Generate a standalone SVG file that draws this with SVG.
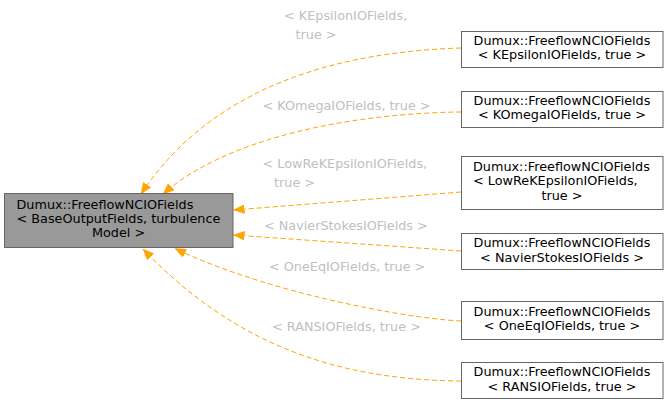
<svg xmlns="http://www.w3.org/2000/svg" width="669" height="409" viewBox="0 0 669 409">
<style>
text { font-family: "DejaVu Sans", "Liberation Sans", sans-serif; font-size: 12.8px; }
.nt { fill: #000000; }
.lbl { fill: #c0c0c0; }
.box { fill: #ffffff; stroke: #666666; stroke-width: 1; }
.main { fill: #999999; stroke: #666666; stroke-width: 1; }
.edge { fill: none; stroke: #ffa500; stroke-width: 1; stroke-dasharray: 5,3; marker-end: url(#arr); }
</style>
<defs>
<marker id="arr" markerUnits="userSpaceOnUse" viewBox="0 0 11 9" refX="11" refY="4.5" markerWidth="11" markerHeight="9" orient="auto">
<path d="M0,0 L11,4.5 L0,9 z" fill="#ffa500" stroke="#ffa500" stroke-width="0.5"/>
</marker>
</defs>
<rect width="669" height="409" fill="#ffffff"/>
<g id="connectors">
<path class="edge" d="M461,48 C330,52 210,90 141,194"/>
<path class="edge" d="M461,112 C360,113 230,135 163,194"/>
<path class="edge" d="M461,192 L233.5,210"/>
<path class="edge" d="M461,251 L233.5,235"/>
<path class="edge" d="M461,321 C400,318 260,290 175,248.5"/>
<path class="edge" d="M461,381 C330,380 230,340 143,249"/>
</g>
<g id="labels">
<text class="lbl" x="284" y="20">&lt; KEpsilonIOFields,</text>
<text class="lbl" x="295.5" y="39">true &gt;</text>
<text class="lbl" x="262.5" y="110">&lt; KOmegaIOFields, true &gt;</text>
<text class="lbl" x="262.5" y="168">&lt; LowReKEpsilonIOFields,</text>
<text class="lbl" x="274" y="187">true &gt;</text>
<text class="lbl" x="264" y="230">&lt; NavierStokesIOFields &gt;</text>
<text class="lbl" x="269" y="271">&lt; OneEqIOFields, true &gt;</text>
<text class="lbl" x="272" y="331">&lt; RANSIOFields, true &gt;</text>
</g>
<g id="node-main">
<rect class="main" x="4.5" y="193.5" width="228.5" height="54"/>
<text class="nt" x="16.5" y="208.5">Dumux::FreeflowNCIOFields</text>
<text class="nt" x="16.5" y="222.5">&lt; BaseOutputFields, turbulence</text>
<text class="nt" x="118.5" y="237" text-anchor="middle">Model &gt;</text>
</g>
<g id="node-kepsilon">
<rect class="box" x="461.5" y="31.5" width="201.5" height="36"/>
<text class="nt" x="562" y="45" text-anchor="middle">Dumux::FreeflowNCIOFields</text>
<text class="nt" x="562" y="59" text-anchor="middle">&lt; KEpsilonIOFields, true &gt;</text>
</g>
<g id="node-komega">
<rect class="box" x="461.5" y="91.5" width="201.5" height="36"/>
<text class="nt" x="562" y="105" text-anchor="middle">Dumux::FreeflowNCIOFields</text>
<text class="nt" x="562" y="119" text-anchor="middle">&lt; KOmegaIOFields, true &gt;</text>
</g>
<g id="node-lowre">
<rect class="box" x="461.5" y="156.5" width="201.5" height="53"/>
<text class="nt" x="473" y="171">Dumux::FreeflowNCIOFields</text>
<text class="nt" x="473" y="185">&lt; LowReKEpsilonIOFields,</text>
<text class="nt" x="562" y="199.5" text-anchor="middle">true &gt;</text>
</g>
<g id="node-navier">
<rect class="box" x="461.5" y="233.5" width="201.5" height="36"/>
<text class="nt" x="562" y="247" text-anchor="middle">Dumux::FreeflowNCIOFields</text>
<text class="nt" x="562" y="261.5" text-anchor="middle">&lt; NavierStokesIOFields &gt;</text>
</g>
<g id="node-oneeq">
<rect class="box" x="461.5" y="301.5" width="201.5" height="38"/>
<text class="nt" x="562" y="315.5" text-anchor="middle">Dumux::FreeflowNCIOFields</text>
<text class="nt" x="562" y="330" text-anchor="middle">&lt; OneEqIOFields, true &gt;</text>
</g>
<g id="node-rans">
<rect class="box" x="461.5" y="362.5" width="201.5" height="36"/>
<text class="nt" x="562" y="376" text-anchor="middle">Dumux::FreeflowNCIOFields</text>
<text class="nt" x="562" y="391" text-anchor="middle">&lt; RANSIOFields, true &gt;</text>
</g>
</svg>
